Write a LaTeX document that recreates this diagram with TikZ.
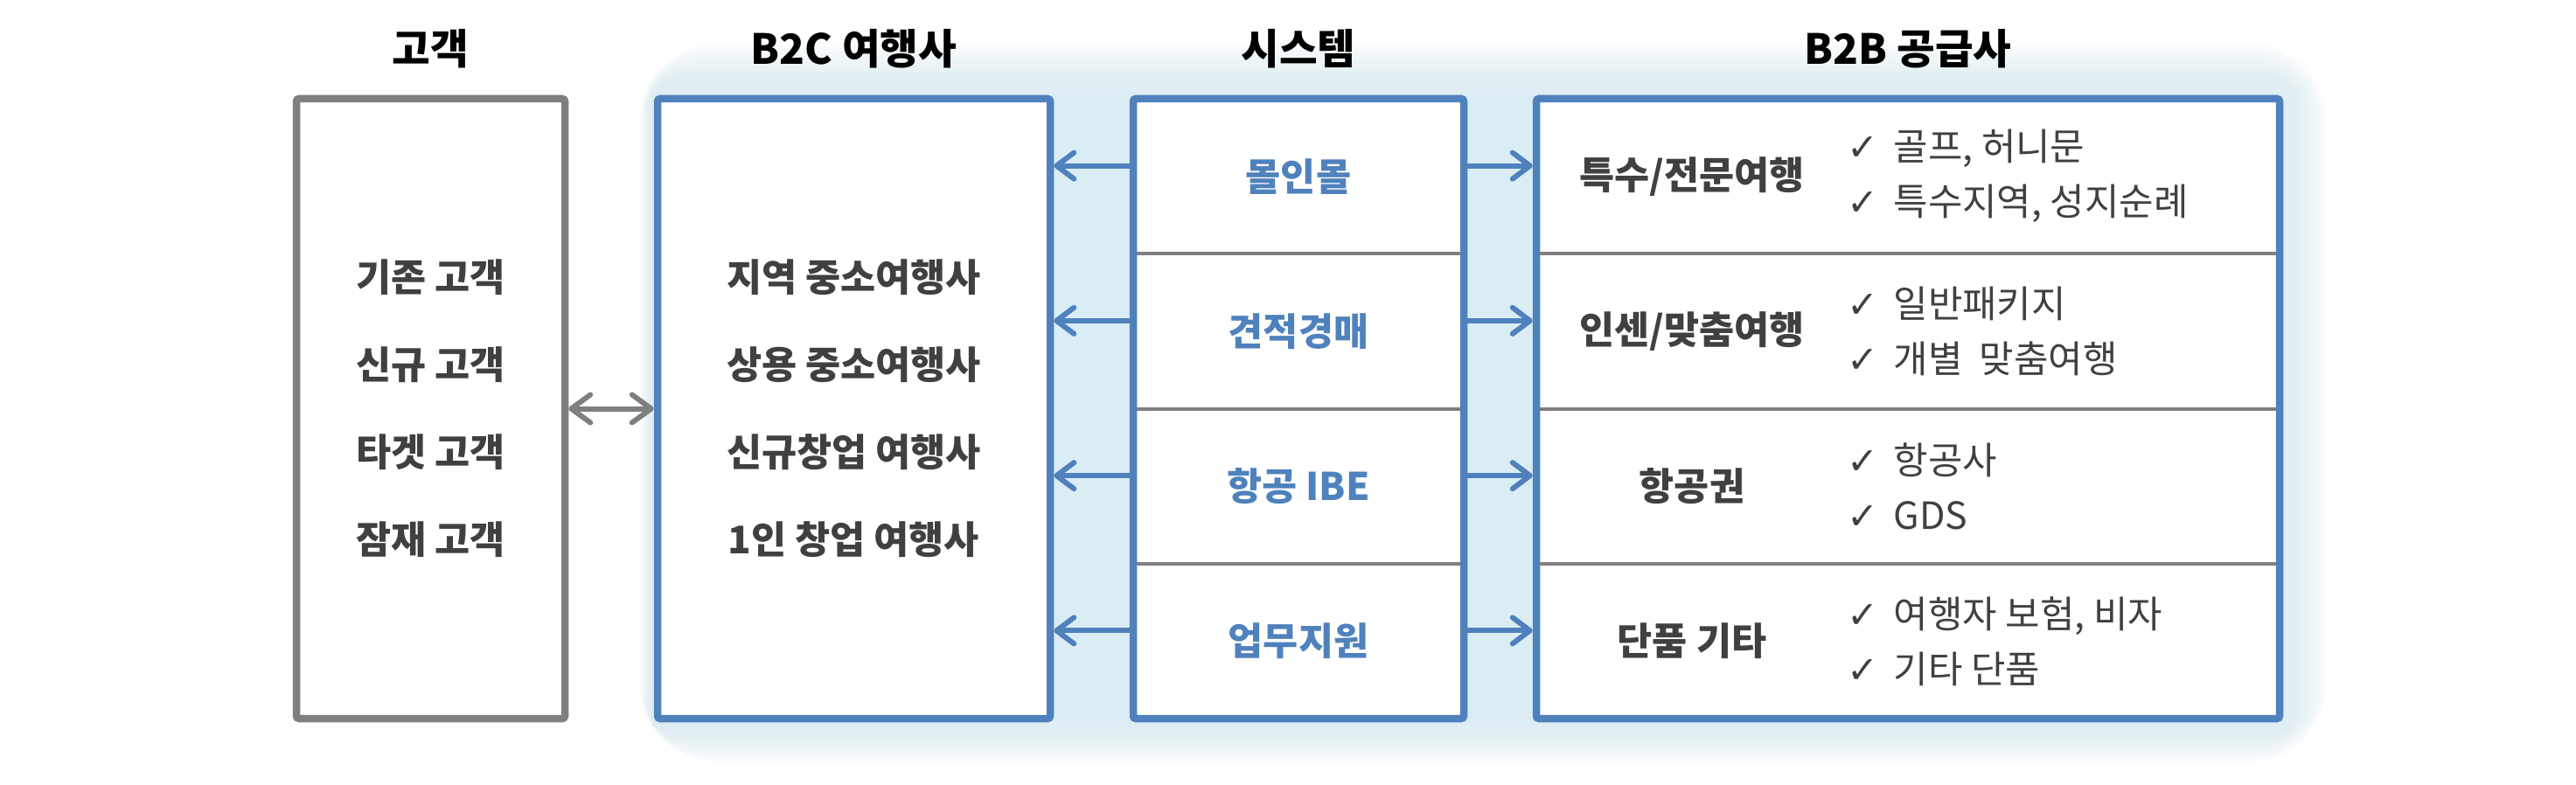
\documentclass[tikz,border=0pt]{standalone}
\usepackage{fontspec}
\setmainfont{Noto Sans CJK KR}
\newfontfamily\symfont{DejaVu Sans}
\usepackage{tikz}
\usetikzlibrary{positioning, arrows.meta, backgrounds}

\definecolor{boxblue}{HTML}{4F81BD}
\definecolor{linegray}{HTML}{7F7F7F}
\definecolor{textgray}{HTML}{404040}
\definecolor{glowblue}{HTML}{DAEDF4}

\newcommand{\ckm}{{\symfont ✓}\hspace{0.17cm}}

\begin{document}
\begin{tikzpicture}[box/.style={draw=boxblue, line width=0.085cm, fill=white, rounded corners=0.03cm, minimum height=7.09cm, align=center, text=textgray, font=\bfseries\fontsize{12.4}{28.45}\selectfont},
    custbox/.style={box, draw=linegray},
    head/.style={inner sep=0pt, font=\bfseries\fontsize{13.5}{16}\selectfont},
    cell/.style={inner sep=0pt, outer sep=0pt, minimum height=1.7725cm},
    syscell/.style={cell, minimum width=3.78cm, text=boxblue, font=\bfseries\fontsize{12.4}{15}\selectfont},
    rowcell/.style={cell, minimum width=8.5cm},
    kind/.style={text=textgray, font=\bfseries\fontsize{12.4}{15}\selectfont},
    items/.style={anchor=west, inner sep=0pt, align=left, text=textgray, font=\fontsize{12.2}{17.9}\selectfont},
    divider/.style={draw=linegray, line width=0.04cm, shorten <=0.04cm, shorten >=0.04cm},
    msg/.style={draw=boxblue, line width=0.06cm, line cap=round, -{Straight Barb[length=0.2cm, width=0.3cm, round]}},
    link/.style={draw=linegray, line width=0.06cm, line cap=round, {Straight Barb[length=0.22cm, width=0.32cm, round]}-{Straight Barb[length=0.22cm, width=0.32cm, round]}}]
    \useasboundingbox (0,0) rectangle (29.46,8.97);

    \node[custbox, minimum width=3.07cm] (cust) at (4.925,4.295) {기존 고객\\신규 고객\\타겟 고객\\잠재 고객};
    \node[box, minimum width=4.49cm, right=0.975cm of cust] (b2c) {지역 중소여행사\\상용 중소여행사\\신규창업 여행사\\1인 창업 여행사};
    \node[box, minimum width=3.78cm, right=0.865cm of b2c] (sys) {};
    \node[box, minimum width=8.5cm, right=0.745cm of sys] (b2b) {};

    \node[head, above=0.3cm of cust] (hcust) {고객};
    \node[head, above=0.3cm of b2c] (hb2c) {B2C 여행사};
    \node[head, above=0.3cm of sys] (hsys) {시스템};
    \node[head, above=0.3cm of b2b] (hb2b) {B2B 공급사};

    \node[syscell, anchor=north] (s1) at ([yshift=-0.0425cm]sys.north) {몰인몰};
    \node[syscell, below=0pt of s1] (s2) {견적경매};
    \node[syscell, below=0pt of s2] (s3) {항공 IBE};
    \node[syscell, below=0pt of s3] (s4) {업무지원};

    \node[rowcell, anchor=north] (p1) at ([yshift=-0.0425cm]b2b.north) {};
    \node[rowcell, below=0pt of p1] (p2) {};
    \node[rowcell, below=0pt of p2] (p3) {};
    \node[rowcell, below=0pt of p3] (p4) {};

    \path[divider] (s1.south west) -- (s1.south east);
    \path[divider] (s2.south west) -- (s2.south east);
    \path[divider] (s3.south west) -- (s3.south east);
    \path[divider] (p1.south west) -- (p1.south east);
    \path[divider] (p2.south west) -- (p2.south east);
    \path[divider] (p3.south west) -- (p3.south east);

    \node[kind] (k1) at ([xshift=1.78cm]p1.west) {특수/전문여행};
    \node[items] (i1) at ([xshift=3.55cm]p1.west) {\ckm 골프, 허니문\\\ckm 특수지역, 성지순례};
    \node[kind] (k2) at ([xshift=1.78cm]p2.west) {인센/맞춤여행};
    \node[items] (i2) at ([xshift=3.55cm]p2.west) {\ckm 일반패키지\\\ckm 개별\ \ 맞춤여행};
    \node[kind] (k3) at ([xshift=1.78cm]p3.west) {항공권};
    \node[items] (i3) at ([xshift=3.55cm]p3.west) {\ckm 항공사\\\ckm GDS};
    \node[kind] (k4) at ([xshift=1.78cm]p4.west) {단품 기타};
    \node[items] (i4) at ([xshift=3.55cm]p4.west) {\ckm 여행자 보험, 비자\\\ckm 기타 단품};

    \path (cust) edge[link] (b2c);

    \foreach \c/\m in {s1/m1, s2/m2, s3/m3, s4/m4} {
        \coordinate (\m) at ([yshift=0.12cm]\c.west);
        \path (\m) edge[msg] (b2c.east |- \m);
        \path (\m -| sys.east) edge[msg] (b2b.west |- \m);
    }

    \begin{scope}[on background layer]
        \fill[white] (0,0) rectangle (29.46,8.97);
        \fill[glowblue] (b2c.north west) rectangle (b2b.south east);
        \foreach \k [evaluate=\k as \r using 0.045*\k] in {1,...,20}
            \fill[glowblue, opacity=0.07, rounded corners=\r cm] ([shift={(-0.008*\k,0.03*\k)}]b2c.north west) rectangle ([shift={(0.025*\k,-0.023*\k)}]b2b.south east);
    \end{scope}
\end{tikzpicture}
\end{document}
